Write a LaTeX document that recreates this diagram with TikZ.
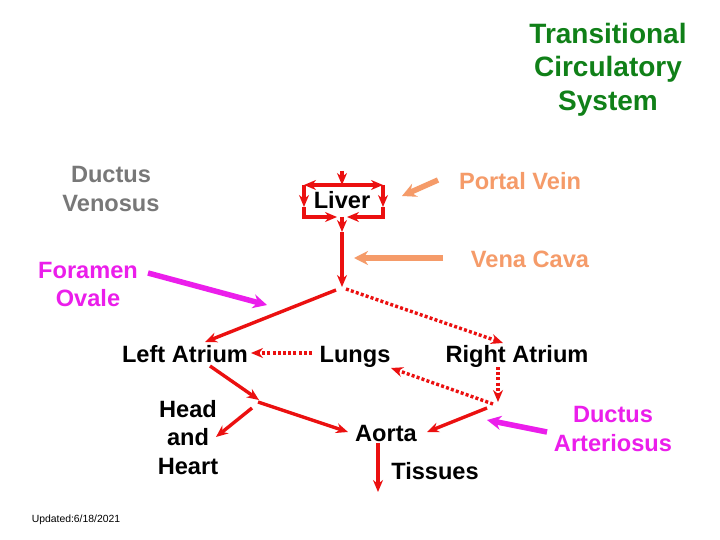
\documentclass[tikz,border=0pt]{standalone}
\usepackage{fontspec}
\setmainfont{Liberation Sans}
\usetikzlibrary{arrows.meta}
\definecolor{tgreen}{RGB}{16,128,24}
\definecolor{tred}{RGB}{235,16,16}
\definecolor{torange}{RGB}{245,155,105}
\definecolor{tmag}{RGB}{235,30,235}
\definecolor{tgray}{RGB}{120,120,120}
\tikzset{
  lbl/.style={inner sep=0pt, font=\bfseries\fontsize{23.6}{28.5}\selectfont, align=center},
  ttl/.style={inner sep=0pt, font=\bfseries\fontsize{28}{33.5}\selectfont, align=center, text=tgreen},
  flow/.style={draw=tred, line width=3.4pt, -{Stealth[length=12pt,width=10pt]}},
  dflow/.style={draw=tred, line width=3.4pt, dash pattern=on 3pt off 2.2pt, -{Stealth[length=12pt,width=10pt]}},
  pointer/.style={line width=5.5pt, -{Stealth[length=14pt,width=14pt]}},
}
\begin{document}
\begin{tikzpicture}[x=1pt,y=-1pt]
\useasboundingbox (0,0) rectangle (720,540);
\fill[white] (0,0) rectangle (720,540);

% Title
\node[ttl] (title) at (608,69.5) {Transitional\\Circulatory\\System};

% Labels
\node[lbl, text=tgray] (dv) at (111,189) {Ductus\\Venosus};
\node[lbl] (liver) at (342,200) {Liver};
\node[lbl, text=torange] (pv) at (520,181) {Portal Vein};
\node[lbl, text=torange] (vc) at (530,259) {Vena Cava};
\node[lbl, text=tmag] (fo) at (88,284.5) {Foramen\\Ovale};
\node[lbl] (la) at (185,354) {Left Atrium};
\node[lbl] (lungs) at (355,356.5) {Lungs};
\node[lbl] (ra) at (517,356.5) {Right Atrium};
\node[lbl] (hh) at (188,437.5) {Head\\and\\Heart};
\node[lbl] (aorta) at (386,433) {Aorta};
\node[lbl] (tis) at (435,471.5) {Tissues};
\node[lbl, text=tmag] (da) at (613,429) {Ductus\\Arteriosus};
\node[inner sep=0pt, font=\fontsize{10.4}{12}\selectfont] (upd) at (76,520) {Updated:6/18/2021};

% Liver box coordinates
\coordinate (lin) at (342,171);
\coordinate (ltm) at (342,185);
\coordinate (ltl) at (304,185);
\coordinate (ltr) at (383,185);
\coordinate (lml) at (304,207);
\coordinate (lmr) at (383,207);
\coordinate (lbl) at (304,217);
\coordinate (lbr) at (383,217);
\coordinate (lbl2) at (337,217);
\coordinate (lbr2) at (347,217);
\coordinate (lbm) at (342,217);
\coordinate (lout) at (342,232);
\coordinate (j1) at (342,287);
\coordinate (j1b) at (346,289);

\draw[flow] (lin) -- (ltm);
\draw[flow] (ltm) -- (ltl);
\draw[flow] (ltm) -- (ltr);
\draw[flow] (ltl) -- (lml);
\draw[flow] (ltr) -- (lmr);
\draw[flow] (lml) -- (lbl) -- (lbl2);
\draw[flow] (lmr) -- (lbr) -- (lbr2);
\draw[flow] (lbm) -- (lout);
\draw[flow] (lout) -- (j1);

% Pointers
\coordinate (pvt) at (438,180);
\coordinate (pvh) at (402,196);
\draw[pointer, torange] (pvt) -- (pvh);
\coordinate (vct) at (443,258);
\coordinate (vch) at (354,258);
\draw[pointer, torange] (vct) -- (vch);
\coordinate (fot) at (148,273);
\coordinate (foh) at (267,305);
\draw[pointer, tmag] (fot) -- (foh);
\coordinate (dat) at (547,432);
\coordinate (dah) at (487,420);
\draw[pointer, tmag] (dat) -- (dah);

% Heart circulation
\coordinate (j1c) at (336,290);
\coordinate (lain) at (205,342);
\coordinate (rain) at (503,343);
\draw[flow] (j1c) -- (lain);
\draw[dflow] (j1b) -- (rain);

\coordinate (lungsL) at (312,353);
\coordinate (laR) at (251,353);
\draw[dflow] (lungsL) -- (laR);

\coordinate (raout) at (498,367);
\coordinate (rab) at (498,402);
\draw[dflow] (raout) -- (rab);

\coordinate (rj) at (493,404);
\coordinate (lungsin) at (391,368);
\draw[dflow] (rj) -- (lungsin);

\coordinate (laout) at (210,366);
\coordinate (j2) at (259,400);
\draw[flow] (laout) -- (j2);
\coordinate (j2b) at (258,402);
\coordinate (aortaL) at (348,432);
\draw[flow] (j2b) -- (aortaL);
\coordinate (hhs) at (252,408);
\coordinate (hhin) at (216,437);
\draw[flow] (hhs) -- (hhin);

\coordinate (rj2) at (487,408);
\coordinate (aortaR) at (427,432);
\draw[flow] (rj2) -- (aortaR);

\coordinate (aortab) at (378,443);
\coordinate (tisin) at (378,492);
\draw[flow] (aortab) -- (tisin);
\end{tikzpicture}
\end{document}
